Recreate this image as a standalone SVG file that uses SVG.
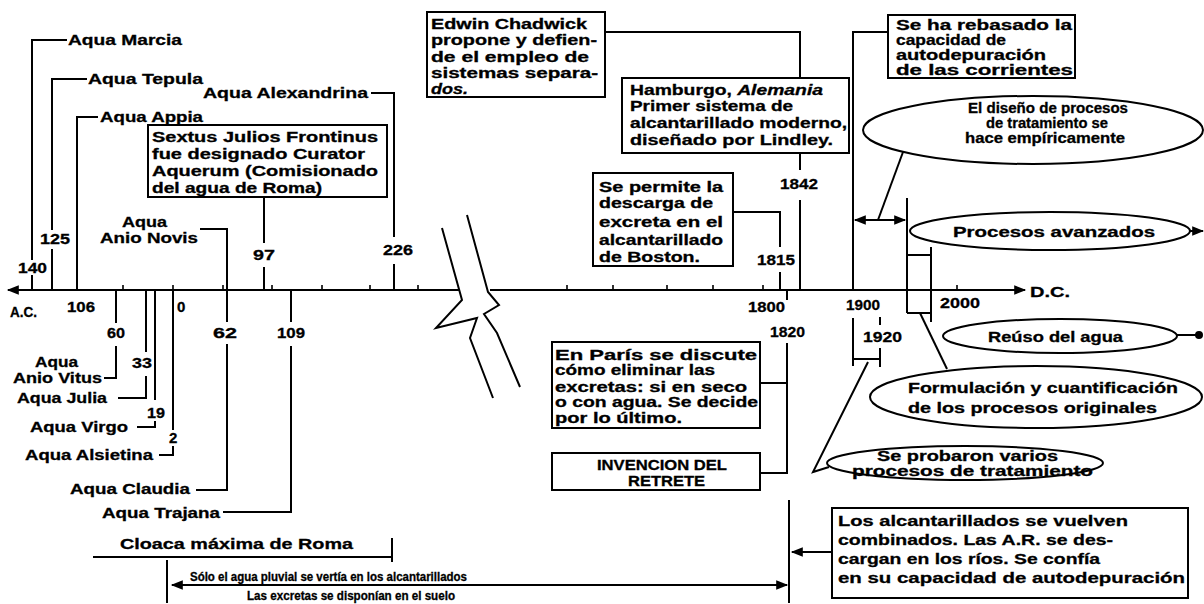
<svg xmlns="http://www.w3.org/2000/svg" width="1204" height="604" viewBox="0 0 1204 604">
<style>
text{font-family:"Liberation Sans",Arial,sans-serif;font-weight:bold;font-size:15px;fill:#000;stroke:#000;stroke-width:0.3px}
.s{font-size:14px}
.xs{font-size:12px}
.m{font-size:15px}
.ln{stroke:#000;stroke-width:2;fill:none}
.box{stroke:#000;stroke-width:2;fill:#fff}
.tk{stroke:#000;stroke-width:1.6}
</style>
<defs>
<marker id="ah" viewBox="0 0 10 10" refX="9" refY="5" markerWidth="7" markerHeight="6" orient="auto-start-reverse" markerUnits="strokeWidth"><path d="M0,1 L10,5 L0,9 z" fill="#000"/></marker>
</defs>
<rect width="1204" height="604" fill="#fff"/>
<g id="connectors" class="ln">
<path d="M8,290 H460" marker-start="url(#ah)"/>
<path d="M490,290 H1025" marker-end="url(#ah)"/>
<path class="tk" d="M123,290v-5M173,290v-5M223,290v-5M272,290v-5M322,290v-5M370,290v-5M418,290v-5M567,290v-5M613,290v-5M667,290v-5M713,290v-5M763,290v-5M957,290v-5"/>
<path d="M442,228 L462,300 L436,328 L477,318 L470,338 L493,398"/>
<path d="M467,215 L488,292 L499,305 L484,314 L497,333 L520,387"/>
<path d="M67,40 H32 V260 M32,275 V290"/>
<path d="M87,79 H52 V230 M52,249 V290"/>
<path d="M98,117 H77 V290"/>
<path d="M371,93 H394 V237 M394,264 V290"/>
<path d="M264,198 V243 M264,267 V290"/>
<path d="M200,229 H227 V290"/>
<path d="M116,290 V323 M116,346 V378 H104"/>
<path d="M146,290 V352 M146,376 V398 H118"/>
<path d="M155,290 V400 M155,421 V427 H137"/>
<path d="M173,290 V430 M173,446 V455 H159"/>
<path d="M227,290 V322 M227,344 V490 H196"/>
<path d="M291,290 V322 M291,346 V512 H223"/>
<path d="M93,557 H392 M392,538 V562"/>
<path d="M167,560 V603"/>
<path d="M172,585 H787" marker-start="url(#ah)" marker-end="url(#ah)"/>
<path d="M605,32 H800 V170 M800,200 V290"/>
<path d="M733,212 H780 V247 M780,272 V290"/>
<path d="M787,290 V300 M787,343 V473 H760 M760,383 H787"/>
<path d="M789,500 V603"/>
<path d="M832,552 H792" marker-end="url(#ah)"/>
<path d="M888,32 H853 V290"/>
<path d="M853,318 V366 M853,359 H880 M880,348 V367 M880,317 V325"/>
<path d="M855,220 H905" marker-start="url(#ah)" marker-end="url(#ah)"/>
<path d="M903,152 L878,220"/>
<path d="M907,198 V313 M931,247 V322 M907,255 H931 M907,313 H931"/>
<path d="M920,313 L947,369"/>
<path d="M868,362 L813,472 L829,467"/>
<path d="M1190,231 H1203" marker-end="url(#ah)"/>
<path d="M1177,335 H1197"/>
<circle cx="1199" cy="335" r="3" fill="#000"/>
</g>
<g id="n-marcia"><text x="68" y="45" textLength="114" lengthAdjust="spacingAndGlyphs">Aqua Marcia</text></g>
<g id="n-tepula"><text x="88" y="84" textLength="115" lengthAdjust="spacingAndGlyphs">Aqua Tepula</text></g>
<g id="n-appia"><text x="100" y="122" textLength="103" lengthAdjust="spacingAndGlyphs">Aqua Appia</text></g>
<g id="n-alexandrina"><text x="203" y="98" textLength="165" lengthAdjust="spacingAndGlyphs">Aqua Alexandrina</text></g>
<g id="n-sextus">
<rect class="box" x="148" y="125" width="239" height="72"/>
<text class="s" x="152" y="142" textLength="226" lengthAdjust="spacingAndGlyphs">Sextus Julios Frontinus</text>
<text class="s" x="152" y="159" textLength="213" lengthAdjust="spacingAndGlyphs">fue designado Curator</text>
<text class="s" x="152" y="176" textLength="226" lengthAdjust="spacingAndGlyphs">Aquerum (Comisionado</text>
<text class="s" x="152" y="193" textLength="170" lengthAdjust="spacingAndGlyphs">del agua de Roma)</text>
</g>
<g id="n-anio-novis"><text x="122" y="227" textLength="45" lengthAdjust="spacingAndGlyphs">Aqua</text><text x="100" y="243" textLength="98" lengthAdjust="spacingAndGlyphs">Anio Novis</text></g>
<g id="years-left">
<text x="18" y="273" textLength="29" lengthAdjust="spacingAndGlyphs">140</text>
<text x="40" y="244" textLength="30" lengthAdjust="spacingAndGlyphs">125</text>
<text x="253" y="260" textLength="22" lengthAdjust="spacingAndGlyphs">97</text>
<text x="383" y="255" textLength="30" lengthAdjust="spacingAndGlyphs">226</text>
<text x="10" y="317" textLength="27" lengthAdjust="spacingAndGlyphs">A.C.</text>
<text x="67" y="312" textLength="28" lengthAdjust="spacingAndGlyphs">106</text>
<text x="177" y="312">0</text>
<text x="107" y="338" textLength="18" lengthAdjust="spacingAndGlyphs">60</text>
<text x="132" y="368" textLength="20" lengthAdjust="spacingAndGlyphs">33</text>
<text x="147" y="418" textLength="18" lengthAdjust="spacingAndGlyphs">19</text>
<text x="169" y="443">2</text>
<text x="213" y="338" textLength="24" lengthAdjust="spacingAndGlyphs">62</text>
<text x="277" y="338" textLength="28" lengthAdjust="spacingAndGlyphs">109</text>
</g>
<g id="n-anio-vitus"><text x="35" y="367" textLength="43" lengthAdjust="spacingAndGlyphs">Aqua</text><text x="13" y="383" textLength="89" lengthAdjust="spacingAndGlyphs">Anio Vitus</text></g>
<g id="n-julia"><text x="17" y="403" textLength="90" lengthAdjust="spacingAndGlyphs">Aqua Julia</text></g>
<g id="n-virgo"><text x="30" y="432" textLength="98" lengthAdjust="spacingAndGlyphs">Aqua Virgo</text></g>
<g id="n-alsietina"><text x="25" y="460" textLength="128" lengthAdjust="spacingAndGlyphs">Aqua Alsietina</text></g>
<g id="n-claudia"><text x="70" y="494" textLength="120" lengthAdjust="spacingAndGlyphs">Aqua Claudia</text></g>
<g id="n-trajana"><text x="102" y="518" textLength="118" lengthAdjust="spacingAndGlyphs">Aqua Trajana</text></g>
<g id="n-cloaca"><text x="120" y="549" textLength="233" lengthAdjust="spacingAndGlyphs">Cloaca máxima de Roma</text></g>
<g id="n-pluvial">
<text class="xs" x="190" y="581" textLength="277" lengthAdjust="spacingAndGlyphs">Sólo el agua pluvial se vertía en los alcantarillados</text>
<text class="xs" x="247" y="600" textLength="208" lengthAdjust="spacingAndGlyphs">Las excretas se disponían en el suelo</text>
</g>
<g id="n-chadwick">
<rect class="box" x="427" y="12" width="178" height="85"/>
<text class="s" x="431" y="29" textLength="156" lengthAdjust="spacingAndGlyphs">Edwin Chadwick</text>
<text class="s" x="431" y="45" textLength="166" lengthAdjust="spacingAndGlyphs">propone y defien-</text>
<text class="s" x="431" y="62" textLength="158" lengthAdjust="spacingAndGlyphs">de el empleo de</text>
<text class="s" x="431" y="78" textLength="167" lengthAdjust="spacingAndGlyphs">sistemas separa-</text>
<text class="s" x="431" y="94" textLength="37" lengthAdjust="spacingAndGlyphs" font-style="italic">dos.</text>
</g>
<g id="n-hamburgo">
<rect class="box" x="622" y="78" width="227" height="75"/>
<text class="s" x="630" y="95" textLength="193" lengthAdjust="spacingAndGlyphs">Hamburgo, <tspan font-style="italic">Alemania</tspan></text>
<text class="s" x="630" y="111" textLength="163" lengthAdjust="spacingAndGlyphs">Primer sistema de</text>
<text class="s" x="630" y="128" textLength="217" lengthAdjust="spacingAndGlyphs">alcantarillado moderno,</text>
<text class="s" x="630" y="145" textLength="203" lengthAdjust="spacingAndGlyphs">diseñado por Lindley.</text>
</g>
<g id="n-boston">
<rect class="box" x="593" y="173" width="140" height="93"/>
<text class="s" x="599" y="192" textLength="124" lengthAdjust="spacingAndGlyphs">Se permite la</text>
<text class="s" x="599" y="208" textLength="114" lengthAdjust="spacingAndGlyphs">descarga de</text>
<text class="s" x="599" y="227" textLength="124" lengthAdjust="spacingAndGlyphs">excreta en el</text>
<text class="s" x="599" y="245" textLength="124" lengthAdjust="spacingAndGlyphs">alcantarillado</text>
<text class="s" x="599" y="262" textLength="101" lengthAdjust="spacingAndGlyphs">de Boston.</text>
</g>
<g id="years-right">
<text x="780" y="189" textLength="38" lengthAdjust="spacingAndGlyphs">1842</text>
<text x="757" y="265" textLength="38" lengthAdjust="spacingAndGlyphs">1815</text>
<text x="748" y="312" textLength="37" lengthAdjust="spacingAndGlyphs">1800</text>
<text x="770" y="337" textLength="35" lengthAdjust="spacingAndGlyphs">1820</text>
<text x="846" y="310" textLength="34" lengthAdjust="spacingAndGlyphs">1900</text>
<text x="940" y="308" textLength="40" lengthAdjust="spacingAndGlyphs">2000</text>
<text x="863" y="342" textLength="39" lengthAdjust="spacingAndGlyphs">1920</text>
<text x="1030" y="297" textLength="40" lengthAdjust="spacingAndGlyphs">D.C.</text>
</g>
<g id="n-paris">
<rect class="box" x="552" y="342" width="208" height="86"/>
<text class="s" x="555" y="360" textLength="202" lengthAdjust="spacingAndGlyphs">En París se discute</text>
<text class="s" x="555" y="375" textLength="160" lengthAdjust="spacingAndGlyphs">cómo eliminar las</text>
<text class="s" x="555" y="392" textLength="192" lengthAdjust="spacingAndGlyphs">excretas: si en seco</text>
<text class="s" x="555" y="407" textLength="203" lengthAdjust="spacingAndGlyphs">o con agua. Se decide</text>
<text class="s" x="555" y="423" textLength="127" lengthAdjust="spacingAndGlyphs">por lo último.</text>
</g>
<g id="n-retrete">
<rect class="box" x="552" y="453" width="208" height="37"/>
<text class="s" x="597" y="470" textLength="130" lengthAdjust="spacingAndGlyphs">INVENCION DEL</text>
<text class="s" x="628" y="486" textLength="77" lengthAdjust="spacingAndGlyphs">RETRETE</text>
</g>
<g id="n-rebasado">
<rect class="box" x="888" y="15" width="187" height="63"/>
<text class="s" x="896" y="30" textLength="176" lengthAdjust="spacingAndGlyphs">Se ha rebasado la</text>
<text class="s" x="896" y="45" textLength="110" lengthAdjust="spacingAndGlyphs">capacidad de</text>
<text class="s" x="896" y="60" textLength="150" lengthAdjust="spacingAndGlyphs">autodepuración</text>
<text class="s" x="896" y="75" textLength="177" lengthAdjust="spacingAndGlyphs">de las corrientes</text>
</g>
<g id="n-diseno">
<ellipse class="box" cx="1033" cy="130" rx="170" ry="34"/>
<text class="s" x="968" y="113" textLength="160" lengthAdjust="spacingAndGlyphs">El diseño de procesos</text>
<text class="s" x="986" y="128" textLength="122" lengthAdjust="spacingAndGlyphs">de tratamiento se</text>
<text class="s" x="965" y="143" textLength="160" lengthAdjust="spacingAndGlyphs">hace empíricamente</text>
</g>
<g id="n-avanzados">
<ellipse class="box" cx="1050" cy="231" rx="140" ry="19"/>
<text class="s" x="953" y="237" textLength="202" lengthAdjust="spacingAndGlyphs">Procesos avanzados</text>
</g>
<g id="n-reuso">
<ellipse class="box" cx="1060" cy="336" rx="117" ry="17"/>
<text class="s" x="988" y="342" textLength="135" lengthAdjust="spacingAndGlyphs">Reúso del agua</text>
</g>
<g id="n-formulacion">
<ellipse class="box" cx="1036" cy="397" rx="166" ry="31"/>
<text class="s" x="908" y="393" textLength="270" lengthAdjust="spacingAndGlyphs">Formulación y cuantificación</text>
<text class="s" x="908" y="413" textLength="249" lengthAdjust="spacingAndGlyphs">de los procesos originales</text>
</g>
<g id="n-probaron">
<ellipse class="box" cx="965" cy="463" rx="138" ry="17"/>
<text class="s" x="877" y="461" textLength="181" lengthAdjust="spacingAndGlyphs">Se probaron varios</text>
<text class="s" x="852" y="476" textLength="241" lengthAdjust="spacingAndGlyphs">procesos de tratamiento</text>
</g>
<g id="n-combinados">
<rect class="box" x="832" y="508" width="356" height="90"/>
<text class="m" x="838" y="526" textLength="290" lengthAdjust="spacingAndGlyphs">Los alcantarillados se vuelven</text>
<text class="m" x="838" y="545" textLength="275" lengthAdjust="spacingAndGlyphs">combinados. Las A.R. se des-</text>
<text class="m" x="838" y="564" textLength="262" lengthAdjust="spacingAndGlyphs">cargan en los ríos. Se confía</text>
<text class="m" x="838" y="583" textLength="347" lengthAdjust="spacingAndGlyphs">en su capacidad de autodepuración</text>
</g>
</svg>
